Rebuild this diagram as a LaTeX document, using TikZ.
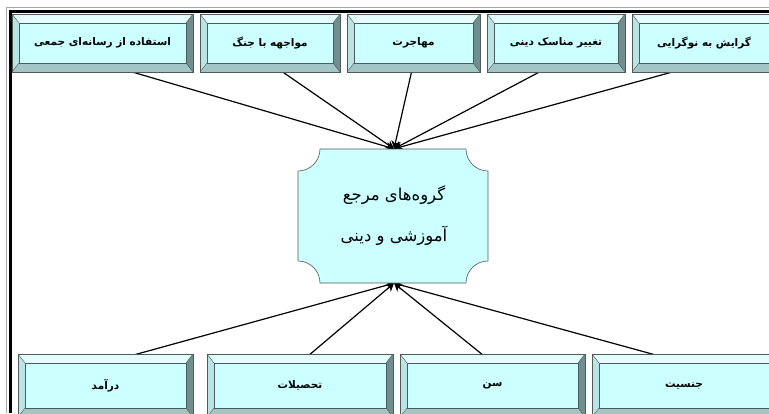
\documentclass[tikz,border=0pt]{standalone}
\usepackage{fontspec}
\newfontfamily\arabicfont[Script=Arabic]{DejaVu Sans}
\TeXXeTstate=1
\usetikzlibrary{arrows.meta}
\definecolor{facec}{HTML}{CCFFFF}
\definecolor{bevtopc}{HTML}{E4FCFC}
\definecolor{bevleftc}{HTML}{B8E4E4}
\definecolor{bevrightc}{HTML}{6F8E8E}
\definecolor{bevbotc}{HTML}{A2C6C6}
\definecolor{edgec}{HTML}{505A5A}
\pgfdeclarelayer{bg}
\pgfdeclarelayer{lines}
\pgfsetlayers{bg,lines,main}
\tikzset{
  boxline/.style={draw=edgec,line width=0.6pt},
  facebox/.style={fill=facec,draw=edgec,line width=0.5pt,inner sep=0pt,font=\arabicfont\bfseries\fontsize{10.5}{12}\selectfont},
  conn/.style={draw=black,line width=1.2pt,-{Stealth[length=8pt,width=9pt]}},
  plaque/.style={fill=facec,draw=edgec,line width=0.6pt},
  centertext/.style={inner sep=0pt,minimum width=190pt,minimum height=134pt,align=center,font=\arabicfont\fontsize{16.5}{41}\selectfont}
}
\newcommand\bevbox[6]{%
  \fill[bevtopc] (#2,#3) -- (#4,#3) -- ({#4-7},{#3+9}) -- ({#2+7},{#3+9}) -- cycle;
  \fill[bevbotc] (#2,#5) -- (#4,#5) -- ({#4-7},{#5-9}) -- ({#2+7},{#5-9}) -- cycle;
  \fill[bevleftc] (#2,#3) -- ({#2+7},{#3+9}) -- ({#2+7},{#5-9}) -- (#2,#5) -- cycle;
  \fill[bevrightc] (#4,#3) -- ({#4-7},{#3+9}) -- ({#4-7},{#5-9}) -- (#4,#5) -- cycle;
  \draw[boxline] (#2,#3) rectangle (#4,#5);
  \draw[boxline,line width=0.4pt] (#2,#3) -- ({#2+7},{#3+9}) (#4,#3) -- ({#4-7},{#3+9})
     (#2,#5) -- ({#2+7},{#5-9}) (#4,#5) -- ({#4-7},{#5-9});
  \node[facebox,minimum width={#4-#2-14},minimum height={#5-#3-18}] (#1)
     at ({(#2+#4)/2},{(#3+#5)/2}) {#6};
}
\begin{document}
\begin{tikzpicture}[x=1pt,y=-1pt]
\useasboundingbox (0,0) rectangle (769,413);
\begin{pgfonlayer}{bg}
  \fill[white] (0,0) rectangle (769,413);
\end{pgfonlayer}
\clip (0,0) rectangle (769,413);
% frame
\draw[gray!70,line width=0.8pt] (6,7.5) -- (769,7.5);
\draw[gray!70,line width=0.8pt] (6,7.5) -- (6,413);
\draw[black,line width=3pt] (9,11.5) -- (769,11.5);
\draw[black,line width=3pt] (10.5,10) -- (10.5,413);
% center plaque
\draw[plaque] (320,149) -- (466,149)
  arc[start angle=180,end angle=270,radius=22pt] -- (488,261)
  arc[start angle=90,end angle=180,radius=22pt] -- (320,283)
  arc[start angle=0,end angle=90,radius=22pt] -- (298,171)
  arc[start angle=270,end angle=360,radius=22pt] -- cycle;
\node[centertext] (c) at (394,216) {\beginR گروه‌های مرجع\endR\\\beginR آموزشی و دینی\endR};
% top boxes
\bevbox{t1}{12}{14}{193}{72}{\beginR استفاده از رسانه‌ای جمعی\endR}
\bevbox{t2}{200}{14}{340}{72}{\beginR مواجهه با جنگ\endR}
\bevbox{t3}{347}{14}{480}{72}{\beginR مهاجرت\endR}
\bevbox{t4}{487}{14}{625}{72}{\beginR تغییر مناسک دینی\endR}
\bevbox{t5}{632}{14}{776}{72}{\beginR گرایش به نوگرایی\endR}
% bottom boxes
\bevbox{b1}{18}{354}{193}{417}{\beginR درآمد\endR}
\bevbox{b2}{207}{354}{393}{417}{\beginR تحصیلات\endR}
\bevbox{b3}{400}{354}{585}{417}{\beginR سن\endR}
\bevbox{b4}{592}{354}{776}{417}{\beginR جنسیت\endR}
% connectors
\begin{pgfonlayer}{lines}
  \foreach \n in {t1,t2,t3,t4,t5} \draw[conn] (\n.south) -- (c.north);
  \foreach \n in {b1,b2,b3,b4} \draw[conn] (\n.north) -- (c.south);
\end{pgfonlayer}
\end{tikzpicture}
\end{document}
